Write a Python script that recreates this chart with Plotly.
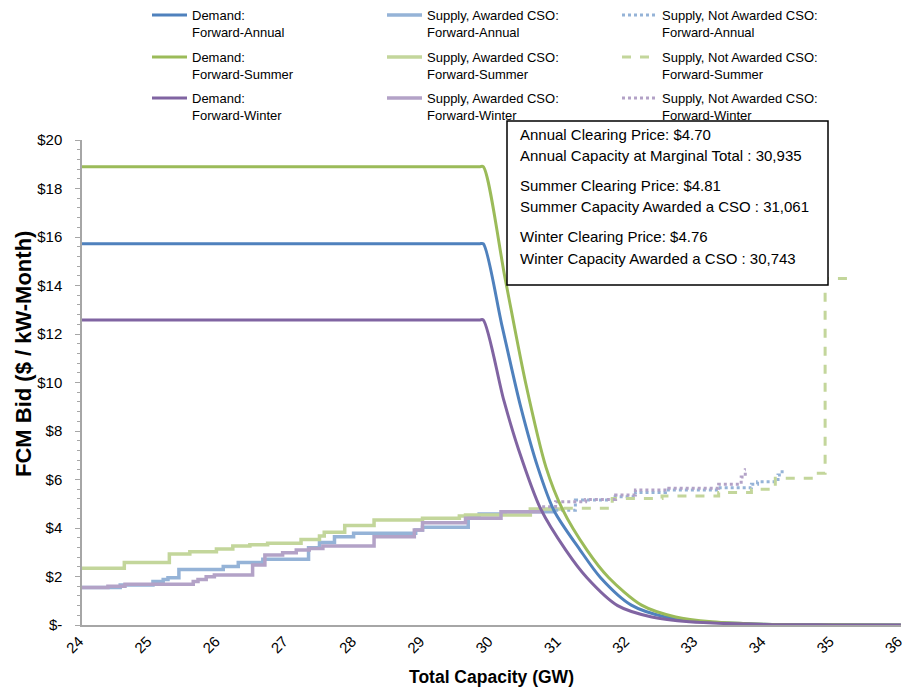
import plotly.graph_objects as go

# ---------------- Data ----------------
# Demand curves (GW, $/kW-Month)
dem_annual_x = [24.0, 29.82, 29.88, 30.15, 30.42, 30.68, 30.92, 31.30, 31.60, 32.05, 32.55, 33.10, 34.0, 35.0, 36.0]
dem_annual_y = [15.72, 15.72, 15.72, 12.40, 9.10, 6.50, 4.70, 3.09, 1.95, 0.82, 0.33, 0.13, 0.03, 0.01, 0.0]

dem_summer_x = [24.0, 29.82, 29.88, 30.20, 30.50, 30.80, 31.04, 31.40, 31.72, 32.20, 32.70, 33.23, 34.0, 35.0, 36.0]
dem_summer_y = [18.90, 18.90, 18.90, 14.30, 10.00, 6.50, 4.78, 3.09, 1.95, 0.82, 0.33, 0.13, 0.03, 0.01, 0.0]

dem_winter_x = [24.0, 29.82, 29.88, 30.18, 30.40, 30.72, 31.09, 31.40, 31.85, 32.35, 32.90, 34.0, 35.0, 36.0]
dem_winter_y = [12.58, 12.58, 12.58, 9.28, 7.22, 4.80, 3.09, 1.95, 0.80, 0.33, 0.13, 0.02, 0.005, 0.0]

# Supply, awarded CSO (step curves)
sup_aw_annual_x = [24.0, 24.56, 25.04, 25.19, 25.26, 25.42, 26.07, 26.29, 26.65, 27.32, 27.48, 27.70,
                   27.98, 28.89, 28.99, 29.66, 29.82, 30.20, 30.935]
sup_aw_annual_y = [1.55, 1.65, 1.79, 1.88, 1.95, 2.29, 2.41, 2.58, 2.71, 3.19, 3.40, 3.64,
                   3.78, 3.92, 4.03, 4.49, 4.58, 4.67, 4.67]

sup_aw_summer_x = [24.0, 24.62, 25.28, 25.58, 25.97, 26.21, 26.46, 26.72, 27.21, 27.48, 27.55, 27.85,
                   28.28, 28.99, 29.53, 29.62, 30.57, 31.061]
sup_aw_summer_y = [2.34, 2.58, 2.93, 3.02, 3.13, 3.26, 3.31, 3.37, 3.53, 3.67, 3.82, 4.10,
                   4.33, 4.40, 4.49, 4.54, 4.78, 4.78]

sup_aw_winter_x = [24.0, 24.38, 24.63, 25.63, 25.70, 25.82, 25.94, 26.50, 26.68, 26.94, 27.14, 27.33,
                   27.53, 28.28, 28.87, 28.99, 29.62, 30.14, 30.743]
sup_aw_winter_y = [1.55, 1.60, 1.68, 1.79, 1.88, 1.99, 2.06, 2.47, 2.89, 2.98, 3.09, 3.15,
                   3.26, 3.64, 3.92, 4.22, 4.40, 4.67, 4.67]

# Supply, not awarded CSO (step curves)
sup_na_annual_x = [30.935, 31.23, 31.77, 32.11, 32.55, 33.33, 33.81, 33.90, 34.20, 34.26, 34.27]
sup_na_annual_y = [4.73, 5.15, 5.29, 5.46, 5.57, 5.66, 5.80, 5.91, 6.19, 6.46, 6.46]

sup_na_summer_x = [31.061, 31.77, 32.50, 33.33, 33.81, 34.16, 34.79, 34.89, 35.30]
sup_na_summer_y = [4.81, 5.22, 5.32, 5.46, 5.60, 6.05, 6.26, 14.29, 14.29]

sup_na_winter_x = [30.743, 30.94, 31.38, 31.82, 32.11, 32.60, 33.33, 33.66, 33.72, 33.73]
sup_na_winter_y = [4.88, 5.08, 5.18, 5.36, 5.57, 5.64, 5.80, 6.10, 6.40, 6.40]

x_ticks = list(range(24, 37))
y_tickvals = [0, 2, 4, 6, 8, 10, 12, 14, 16, 18, 20]
y_ticktext = ["$-", "$2", "$4", "$6", "$8", "$10", "$12", "$14", "$16", "$18", "$20"]

info_lines = [
    "Annual Clearing Price: $4.70",
    "Annual Capacity at Marginal Total : 30,935",
    "Summer Clearing Price: $4.81",
    "Summer Capacity Awarded a CSO : 31,061",
    "Winter Clearing Price: $4.76",
    "Winter Capacity Awarded a CSO : 30,743",
]

# ---------------- Styles ----------------
FONT = "Arial, Liberation Sans, sans-serif"
C_ANN, C_SUM, C_WIN = "#4F81BD", "#9BBB59", "#8064A2"
L_ANN, L_SUM, L_WIN = "#95B3D7", "#C3D69B", "#B3A2C7"

W, H = 907, 691
ML, MR, MT, MB = 82, 6, 140, 66
PW, PH = W - ML - MR, H - MT - MB

def px_x(p):
    return (p - ML) / PW

def px_y(p):
    return (H - MB - p) / PH

fig = go.Figure()

# supply (drawn first, under the demand curves)
supply = [
    (sup_aw_annual_x, sup_aw_annual_y, L_ANN, "solid", 3.5, "Supply, Awarded CSO:<br>Forward-Annual", 2, "legend"),
    (sup_aw_summer_x, sup_aw_summer_y, L_SUM, "solid", 3.5, "Supply, Awarded CSO:<br>Forward-Summer", 2, "legend2"),
    (sup_aw_winter_x, sup_aw_winter_y, L_WIN, "solid", 3.5, "Supply, Awarded CSO:<br>Forward-Winter", 2, "legend3"),
    (sup_na_annual_x, sup_na_annual_y, L_ANN, "dot", 3, "Supply, Not Awarded CSO:<br>Forward-Annual", 3, "legend"),
    (sup_na_summer_x, sup_na_summer_y, L_SUM, "dash", 3, "Supply, Not Awarded CSO:<br>Forward-Summer", 3, "legend2"),
    (sup_na_winter_x, sup_na_winter_y, L_WIN, "dot", 3, "Supply, Not Awarded CSO:<br>Forward-Winter", 3, "legend3"),
]
for xs, ys, col, dash, w, name, rank, lg in supply:
    fig.add_trace(go.Scatter(x=xs, y=ys, mode="lines", name=name, legendrank=rank, legend=lg,
                             line=dict(color=col, width=w, dash=dash, shape="hv")))

demand = [
    (dem_annual_x, dem_annual_y, C_ANN, "Demand:<br>Forward-Annual", "legend"),
    (dem_summer_x, dem_summer_y, C_SUM, "Demand:<br>Forward-Summer", "legend2"),
    (dem_winter_x, dem_winter_y, C_WIN, "Demand:<br>Forward-Winter", "legend3"),
]
for xs, ys, col, name, lg in demand:
    fig.add_trace(go.Scatter(x=xs, y=ys, mode="lines", name=name, legendrank=1, legend=lg,
                             line=dict(color=col, width=3, shape="spline", smoothing=0.8)))

# info box
fig.add_shape(type="rect", xref="paper", yref="paper",
              x0=px_x(507), x1=px_x(828), y0=px_y(285), y1=px_y(121),
              line=dict(color="black", width=1.5), fillcolor="white", layer="above")
line_px = [134, 155, 185, 206, 236, 258]
for txt, py in zip(info_lines, line_px):
    fig.add_annotation(text=txt, xref="paper", yref="paper",
                       x=px_x(518), y=px_y(py),
                       xanchor="left", yanchor="middle", showarrow=False,
                       font=dict(family=FONT, size=15, color="black"))

# axis titles
fig.add_annotation(text="<b>FCM Bid ($ / kW-Month)</b>", xref="paper", yref="paper",
                   x=px_x(23), y=px_y(354), textangle=-90, showarrow=False,
                   xanchor="center", yanchor="middle",
                   font=dict(family=FONT, size=22, color="black"))
fig.add_annotation(text="<b>Total Capacity (GW)</b>", xref="paper", yref="paper",
                   x=0.5, y=px_y(677), showarrow=False,
                   xanchor="center", yanchor="middle",
                   font=dict(family=FONT, size=17.5, color="black"))

legend_common = dict(orientation="h", xref="container", yref="container",
                     x=147 / W, xanchor="left", yanchor="top",
                     entrywidth=185, entrywidthmode="pixels", itemwidth=35,
                     valign="top", font=dict(family=FONT, size=13, color="black"),
                     bgcolor="rgba(0,0,0,0)")

fig.update_layout(
    width=W, height=H,
    margin=dict(l=ML, r=MR, t=MT, b=MB, autoexpand=False),
    paper_bgcolor="white", plot_bgcolor="white",
    font=dict(family=FONT, size=15, color="black"),
    legend=dict(legend_common, y=1.0),
    legend2=dict(legend_common, y=1 - 42 / H),
    legend3=dict(legend_common, y=1 - 83 / H),
    xaxis=dict(range=[24, 36.002], tickvals=x_ticks, ticktext=[str(v) for v in x_ticks],
               tickangle=-45, showgrid=False, zeroline=False, automargin=False,
               ticklabeloverflow="allow", ticklabelshift=-3,
               showline=True, linecolor="#A6A6A6", linewidth=1.5,
               ticks="", tickfont=dict(size=15)),
    yaxis=dict(range=[0, 20], tickvals=y_tickvals, ticktext=y_ticktext,
               showgrid=False, zeroline=False, automargin=False,
               showline=True, linecolor="#A6A6A6", linewidth=1.5,
               ticks="outside", ticklen=5, tickcolor="#A6A6A6", tickwidth=1,
               minor=dict(dtick=0.4, ticks="outside", ticklen=3, tickcolor="#A6A6A6"),
               ticklabelstandoff=10, tickfont=dict(size=15)),
)

fig.write_html("out.html", config={"displayModeBar": False},
               post_script="document.body.style.margin='0';")
